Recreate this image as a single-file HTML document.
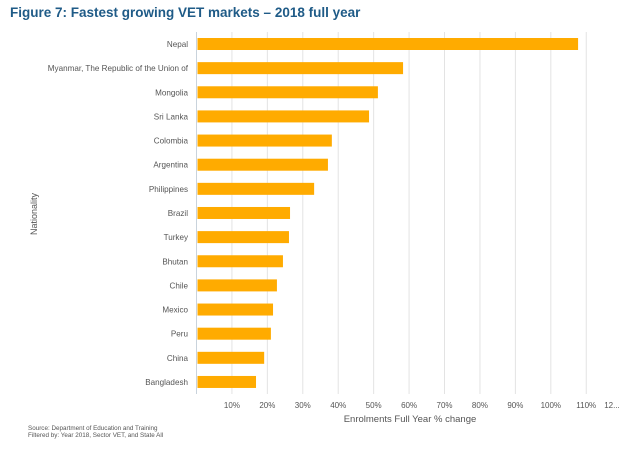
<!DOCTYPE html>
<html><head><meta charset="utf-8"><style>
body{margin:0;background:#fff;width:624px;height:449px;overflow:hidden;font-family:"Liberation Sans",sans-serif}
</style></head><body>
<svg width="624" height="449" xmlns="http://www.w3.org/2000/svg">
<text x="10" y="17" font-size="13.5" font-weight="bold" fill="#1f5b87">Figure 7: Fastest growing VET markets – 2018 full year</text>
<g id="grid"></g>
<g id="bars"></g>
<g id="ylabels"></g>
<g id="xlabels"></g>
<text x="410" y="422" font-size="9.5" fill="#555" text-anchor="middle">Enrolments Full Year % change</text>
<text x="0" y="0" font-size="9" fill="#555" text-anchor="middle" transform="translate(37,214) rotate(-90)">Nationality</text>
<text x="28" y="430" font-size="6.3" fill="#555">Source: Department of Education and Training</text>
<text x="28" y="437" font-size="6.3" fill="#555">Filtered by: Year 2018, Sector VET, and State All</text>
</svg>
<script>
const categories=["Nepal","Myanmar, The Republic of the Union of","Mongolia","Sri Lanka","Colombia","Argentina","Philippines","Brazil","Turkey","Bhutan","Chile","Mexico","Peru","China","Bangladesh"];
const values=[107.7,58.3,51.2,48.7,38.2,37.1,33.2,26.4,26.1,24.4,22.7,21.6,21.0,19.1,16.8];
const tickValues=[10,20,30,40,50,60,70,80,90,100,110,120];
const tickLabels=["10%","20%","30%","40%","50%","60%","70%","80%","90%","100%","110%","12..."];
const NS="http://www.w3.org/2000/svg";
const x0=196.5,pxPer=3.543,yTop=32,step=24.14,barH=12;
const xs=v=>x0+v*pxPer;
const yc=i=>44+i*step;
const grid=document.getElementById('grid'),bars=document.getElementById('bars'),yl=document.getElementById('ylabels'),xl=document.getElementById('xlabels');
function mk(tag,attrs,parent){const e=document.createElementNS(NS,tag);for(const k in attrs)e.setAttribute(k,attrs[k]);parent.appendChild(e);return e;}
tickValues.forEach((t,i)=>{
  const x=xs(t);
  if(x<620){
    const l=mk('line',{x1:x,x2:x,y1:yTop,y2:394,stroke:'#e3e3e3','stroke-width':1},grid);
    
    
  }
  const tx=mk('text',{x:Math.min(x,612),y:408,'font-size':8,fill:'#555','text-anchor':'middle'},xl);
  tx.textContent=tickLabels[i];
  
  
});
const ax=mk('line',{x1:x0,x2:x0,y1:yTop,y2:394,stroke:'#c9d3dc','stroke-width':1},grid);


categories.forEach((c,i)=>{
  const r=mk('rect',{x:x0+1,y:yc(i)-barH/2,width:Math.max(0,xs(values[i])-x0-1),height:barH,fill:'#ffab00'},bars);
  
  
  const t=mk('text',{x:188,y:yc(i)+3,'font-size':8.1,fill:'#555','text-anchor':'end'},yl);
  t.textContent=c;
  
  
});
</script>
</body></html>
